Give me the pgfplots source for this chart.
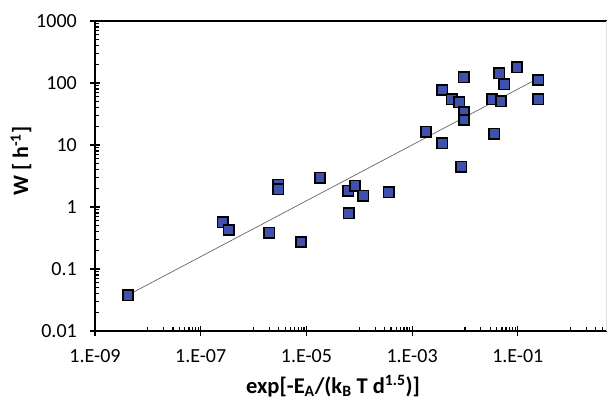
\documentclass[border=0pt]{standalone}
\usepackage{fontspec}
\setmainfont{Carlito}
\usepackage{pgfplots}
\pgfplotsset{compat=1.18}
\definecolor{mk}{RGB}{62,82,172}
\begin{document}
\begin{tikzpicture}[x=1pt,y=1pt]
\useasboundingbox (0,0) rectangle (607,400);
\begin{axis}[
 at={(95pt,69pt)}, anchor=south west,
 scale only axis, width=512pt, height=310pt,
 xmode=log, ymode=log,
 xmin=1e-9, xmax=4.87, ymin=0.01, ymax=1000,
 axis lines=left, axis line style={-, line width=1.5pt, black},
 clip=false,
 xtick={1e-9,1e-7,1e-5,1e-3,1e-1},
 xticklabels={1.E-09,1.E-07,1.E-05,1.E-03,1.E-01},
 ytick={0.01,0.1,1,10,100,1000},
 yticklabels={0.01,0.1,1,10,100,1000},
 minor xtick={1e-8,2e-8,3e-8,4e-8,5e-8,6e-8,7e-8,8e-8,9e-8,
   1e-6,2e-6,3e-6,4e-6,5e-6,6e-6,7e-6,8e-6,9e-6,
   1e-4,2e-4,3e-4,4e-4,5e-4,6e-4,7e-4,8e-4,9e-4,
   1e-2,2e-2,3e-2,4e-2,5e-2,6e-2,7e-2,8e-2,9e-2,
   1,2,3,4},
 minor ytick={0.02,0.03,0.04,0.05,0.06,0.07,0.08,0.09,
   0.2,0.3,0.4,0.5,0.6,0.7,0.8,0.9,
   2,3,4,5,6,7,8,9,20,30,40,50,60,70,80,90,
   200,300,400,500,600,700,800,900},
 tick align=inside,
 major tick length=10pt, minor tick length=4.5pt,
 tick style={black, line width=1.2pt},
 major x tick style={yshift=-5pt},
 major y tick style={xshift=-5pt},
 every tick label/.append style={font=\fontsize{20}{24}\selectfont, inner sep=0pt},
 xticklabel style={anchor=base, yshift=-31pt},
 yticklabel style={anchor=east, xshift=-18pt},
 every axis x label/.style={at={(axis description cs:0.465,-0.2)}, anchor=base, font=\fontsize{22.5}{26}\selectfont\bfseries},
 every axis y label/.style={at={(axis description cs:-0.1445,0.548)}, anchor=center, rotate=90, font=\fontsize{22}{26}\selectfont\bfseries},
 xlabel={exp[-E\textsubscript{A}/(k\textsubscript{B} T d\textsuperscript{1.5})]},
 ylabel={W [ h\textsuperscript{-1}]},
]
\addplot[only marks, mark=square*, mark size=5.2pt, mark options={fill=mk, draw=black, line width=1.6pt}] coordinates {
(4.2e-9,0.0377) (2.6e-7,0.567) (3.4e-7,0.426) (1.99e-6,0.385) (7.9e-6,0.272)
(2.94e-6,2.3) (2.94e-6,1.93) (1.81e-5,2.97) (6.2e-5,1.83) (8.3e-5,2.2)
(1.19e-4,1.52) (6.3e-5,0.79) (3.6e-4,1.73) (1.83e-3,16.4) (3.7e-3,10.6)
(3.7e-3,77) (5.6e-3,54.6) (7.8e-3,48.8) (9.6e-3,34) (9.6e-3,25.3)
(9.4e-3,124) (8.5e-3,4.47) (0.0325,55) (0.0359,15.2) (0.048,51)
(0.0447,143) (0.0556,96) (0.0966,179) (0.244,112) (0.244,55)
};
\addplot[gray!80!black, line width=0.7pt] coordinates {(4.2e-9,0.038) (0.244,119)};
\draw[line width=1.5pt] (rel axis cs:0,1) -- (rel axis cs:1,1);
\draw[black!12, line width=0.8pt] (rel axis cs:0.999,0) -- (rel axis cs:0.999,1);
\end{axis}
\end{tikzpicture}
\end{document}
